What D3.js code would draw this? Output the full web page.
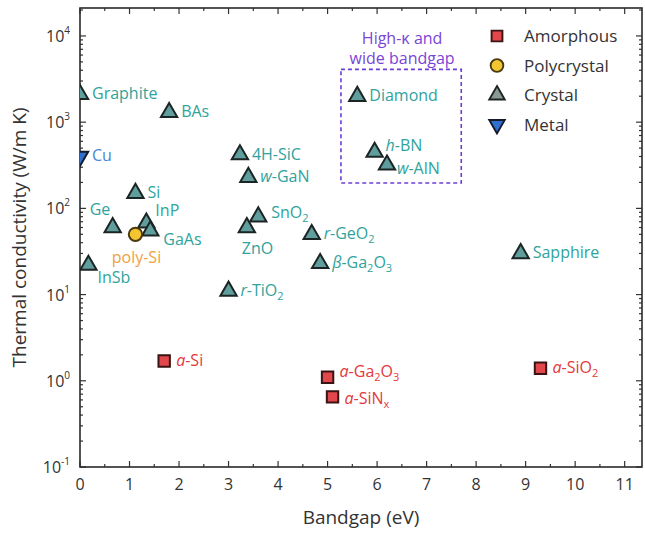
<!DOCTYPE html>
<html>
<head>
<meta charset="utf-8">
<script src="https://cdn.jsdelivr.net/npm/d3@7"></script>
<style>
  body { margin: 0; background: #fff; }
  text { font-family: "Open Sans", sans-serif; }
</style>
</head>
<body>
<div id="chart"></div>
<script>
const crystalNames = ["Graphite", "BAs", "4H-SiC", "w-GaN", "Si", "Ge", "InP", "GaAs", "InSb", "ZnO", "SnO2", "r-TiO2", "r-GeO2", "β-Ga2O3", "Sapphire", "Diamond", "h-BN", "w-AlN"]
const crystalGap = [0, 1.8, 3.23, 3.4, 1.12, 0.66, 1.34, 1.42, 0.17, 3.37, 3.6, 3.0, 4.68, 4.85, 8.9, 5.6, 5.95, 6.2]
const crystalK = [2100, 1300, 420, 230, 150, 60, 68, 55, 22, 60, 80, 11, 50, 23, 30, 2000, 450, 320]

const amorphousNames = ["a-Si", "a-Ga2O3", "a-SiNx", "a-SiO2"]
const amorphousGap = [1.7, 5.0, 5.1, 9.3]
const amorphousK = [1.7, 1.1, 0.65, 1.4]

const polyNames = ["poly-Si"]
const polyGap = [1.12]
const polyK = [50]

const metalNames = ["Cu"]
const metalGap = [0]
const metalK = [400]

const xTicks = [0, 1, 2, 3, 4, 5, 6, 7, 8, 9, 10, 11]
const yExponents = [-1, 0, 1, 2, 3, 4]
const legendLabels = ["Amorphous", "Polycrystal", "Crystal", "Metal"]

const boxGap = [5.27, 7.7]
const boxK = [197, 4100]
const boxTitle = ["High-κ and", "wide bandgap"]

;(() => {

  let W = 645, H = 536
  let margin = {top: 8, right: 3, bottom: 69, left: 80}

  let svg = d3.select("#chart")
  .append("svg")
  .attr("width", W)
  .attr("height", H)

  let x = d3.scaleLinear()
  .domain([0, 11.35])
  .range([margin.left, W - margin.right])

  let y = d3.scaleLog()
  .domain([0.1, 21100])
  .range([H - margin.bottom, margin.top])

  let x0 = x.range()[0], x1 = x.range()[1]
  let y0 = y.range()[0], y1 = y.range()[1]

  let colors = {
    crystal: {fill: "#5f9e9c", stroke: "#1c2424", text: "#2fa39c"},
    amorphous: {fill: "#e2474b", stroke: "#3a1414", text: "#e5383c"},
    poly: {fill: "#f2c531", stroke: "#4a3a10", text: "#f0a040"},
    metal: {fill: "#2f6fd0", stroke: "#141c2c", text: "#4a86d8"}
  }

  // label offsets from their marker: [dx, dy, anchor]
  let offsets = {
    "Ge": [-23, -17, "start"],
    "InP": [9, -12, "start"],
    "GaAs": [13, 9, "start"],
    "poly-Si": [1, 24, "middle"],
    "InSb": [9, 13, "start"],
    "ZnO": [-5, 22, "start"],
    "SnO2": [13, -4, "start"],
    "a-Ga2O3": [12, -5, "start"],
    "a-SiNx": [12, 2, "start"],
    "h-BN": [11, -6, "start"],
    "w-AlN": [10, 4, "start"]
  }

  let clip = svg.append("clipPath").attr("id", "plotclip")
  clip.append("rect")
  .attr("x", x0).attr("y", y1)
  .attr("width", x1 - x0).attr("height", y0 - y1)

  // ticks
  let tk = svg.append("g").attr("stroke", "#333").attr("stroke-width", 1.2)
  d3.range(0, 11.5, 0.5).forEach(v => {
    let len = Number.isInteger(v) ? 6 : 3
    tk.append("line").attr("x1", x(v)).attr("x2", x(v)).attr("y1", y0).attr("y2", y0 - len)
    tk.append("line").attr("x1", x(v)).attr("x2", x(v)).attr("y1", y1).attr("y2", y1 + len)
  })
  yExponents.forEach(e => {
    d3.range(1, 10).forEach(m => {
      let v = m * Math.pow(10, e)
      if (v > y.domain()[1]) return
      let len = m === 1 ? 6 : 3
      tk.append("line").attr("x1", x0).attr("x2", x0 + len).attr("y1", y(v)).attr("y2", y(v))
      tk.append("line").attr("x1", x1).attr("x2", x1 - len).attr("y1", y(v)).attr("y2", y(v))
    })
  })

  svg.append("rect")
  .attr("x", x0).attr("y", y1)
  .attr("width", x1 - x0).attr("height", y0 - y1)
  .attr("fill", "none")
  .attr("stroke", "#2a2a2a")
  .attr("stroke-width", 1.6)

  // tick labels
  svg.append("g").selectAll("text")
  .data(xTicks)
  .enter().append("text")
  .attr("x", d => x(d))
  .attr("y", y0 + 23)
  .attr("text-anchor", "middle")
  .attr("font-size", 16)
  .attr("fill", "#333")
  .text(d => d)

  let yl = svg.append("g").selectAll("text")
  .data(yExponents)
  .enter().append("text")
  .attr("x", x0 - 10)
  .attr("y", d => y(Math.pow(10, d)) + 6)
  .attr("text-anchor", "end")
  .attr("font-size", 16)
  .attr("fill", "#333")
  yl.append("tspan").text("10")
  yl.append("tspan").attr("dy", -8).attr("font-size", 10).text(d => d)

  // axis titles
  svg.append("text")
  .attr("x", (x0 + x1) / 2)
  .attr("y", 524)
  .attr("text-anchor", "middle")
  .attr("font-size", 19)
  .attr("fill", "#333")
  .text("Bandgap (eV)")

  svg.append("text")
  .attr("transform", "translate(26," + ((y0 + y1) / 2) + ") rotate(-90)")
  .attr("text-anchor", "middle")
  .attr("font-size", 19)
  .attr("fill", "#333")
  .text("Thermal conductivity (W/m K)")

  // high-k box
  svg.append("rect")
  .attr("x", x(boxGap[0]))
  .attr("y", y(boxK[1]))
  .attr("width", x(boxGap[1]) - x(boxGap[0]))
  .attr("height", y(boxK[0]) - y(boxK[1]))
  .attr("fill", "none")
  .attr("stroke", "#6b3fd6")
  .attr("stroke-width", 1.6)
  .attr("stroke-dasharray", "4,3")

  svg.append("g").selectAll("text")
  .data(boxTitle)
  .enter().append("text")
  .attr("x", (x(boxGap[0]) + x(boxGap[1])) / 2 + 1)
  .attr("y", (d, i) => y(boxK[1]) - 25 + i * 20)
  .attr("text-anchor", "middle")
  .attr("font-size", 16)
  .attr("fill", "#7a44d8")
  .text(d => d)

  let symbols = {
    crystal: d3.symbol().type(d3.symbolTriangle).size(115)(),
    metal: d3.symbol().type(d3.symbolTriangle).size(115)(),
    amorphous: d3.symbol().type(d3.symbolSquare).size(130)(),
    poly: d3.symbol().type(d3.symbolCircle).size(140)()
  }

  function richLabel(sel, name) {
    let m = name.match(/^([arwhβ])-(.*)$/)
    let rest = name
    if (m) {
      sel.append("tspan").style("font-style", "italic").text(m[1])
      rest = "-" + m[2]
    }
    let buf = "", shifted = false
    for (let i = 0; i < rest.length; i++) {
      let c = rest[i]
      let sub = (/\d/.test(c) && i > 0 && /[A-Za-z]/.test(rest[i - 1])) || (c === "x" && i === rest.length - 1)
      if (sub) {
        if (buf) sel.append("tspan").attr("dy", shifted ? -4 : 0).text(buf)
        sel.append("tspan").attr("dy", 4).attr("font-size", 11).text(c)
        buf = ""
        shifted = true
      } else {
        buf += c
      }
    }
    if (buf) sel.append("tspan").attr("dy", shifted ? -4 : 0).text(buf)
  }

  function drawSet(kind, names, gaps, ks) {
    let data = names.map((n, i) => ({name: n, gap: gaps[i], k: ks[i]}))
    let c = colors[kind]

    svg.append("g")
    .attr("clip-path", "url(#plotclip)")
    .selectAll("path")
    .data(data)
    .enter().append("path")
    .attr("d", symbols[kind])
    .attr("transform", d => "translate(" + x(d.gap) + "," + y(d.k) + ")" + (kind === "metal" ? " rotate(180)" : ""))
    .attr("fill", c.fill)
    .attr("stroke", c.stroke)
    .attr("stroke-width", 2)

    svg.append("g")
    .selectAll("text")
    .data(data)
    .enter().append("text")
    .attr("x", d => x(d.gap) + (offsets[d.name] ? offsets[d.name][0] : 12))
    .attr("y", d => y(d.k) + 5 + (offsets[d.name] ? offsets[d.name][1] : 0))
    .attr("text-anchor", d => offsets[d.name] ? offsets[d.name][2] : "start")
    .attr("font-size", 16)
    .attr("fill", c.text)
    .each(function(d) { richLabel(d3.select(this), d.name) })
  }

  drawSet("crystal", crystalNames, crystalGap, crystalK)
  drawSet("metal", metalNames, metalGap, metalK)
  drawSet("poly", polyNames, polyGap, polyK)
  drawSet("amorphous", amorphousNames, amorphousGap, amorphousK)

  // legend
  let legendKinds = ["amorphous", "poly", "crystal", "metal"]
  let lg = svg.append("g")
  .attr("transform", "translate(497,36)")

  legendKinds.forEach((kind, i) => {
    lg.append("path")
    .attr("d", symbols[kind])
    .attr("transform", "translate(0," + (i * 29.5) + ")" + (kind === "metal" ? " rotate(180)" : "") + " scale(0.95)")
    .attr("fill", kind === "crystal" ? "#8a9a90" : colors[kind].fill)
    .attr("stroke", colors[kind].stroke)
    .attr("stroke-width", 2)
    lg.append("text")
    .attr("x", 27)
    .attr("y", i * 29.5 + 6)
    .attr("font-size", 17)
    .attr("fill", "#333")
    .text(legendLabels[i])
  })

})()
</script>
</body>
</html>
